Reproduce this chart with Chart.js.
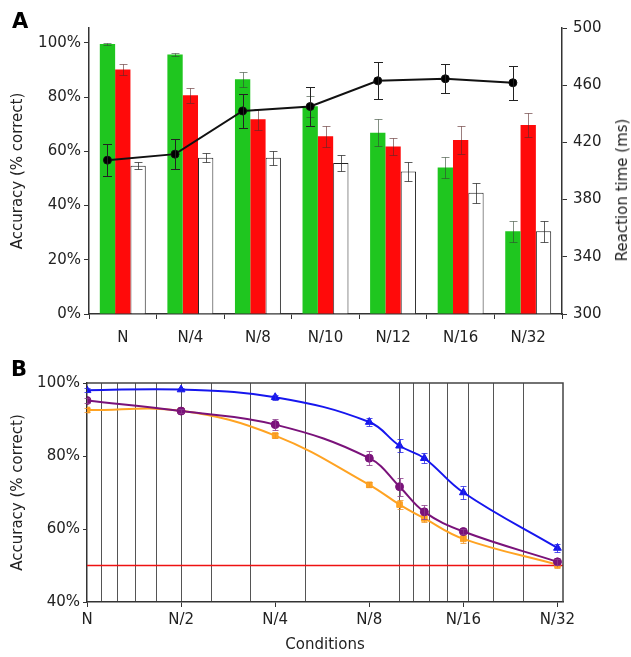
<!DOCTYPE html>
<html>
<head>
<meta charset="utf-8">
<script src="https://cdn.jsdelivr.net/npm/chart.js@4/dist/chart.umd.min.js"></script>
<style>
html,body{margin:0;padding:0;background:#fff;}
body{width:631px;height:657px;position:relative;overflow:hidden;font-family:"DejaVu Sans",sans-serif;}
#wa{position:absolute;left:0;top:0;width:631px;height:345px;}
#wb{position:absolute;left:0;top:345px;width:631px;height:312px;}
.panel{position:absolute;font:bold 21px "DejaVu Sans",sans-serif;color:#000;line-height:21px;}
#rtTitle{position:absolute;left:622px;top:190px;transform:translate(-50%,-50%) rotate(-90deg);white-space:nowrap;font:15px "DejaVu Sans",sans-serif;color:#222;}
</style>
</head>
<body>
<div id="wa"><canvas id="ca"></canvas></div>
<div id="wb"><canvas id="cb"></canvas></div>
<div class="panel" style="left:12px;top:11px;">A</div>
<div class="panel" style="left:11px;top:359px;">B</div>
<div id="rtTitle">Reaction time (ms)</div>
<script>
// ---------- Panel A data ----------
const catsA = ['N', 'N/4', 'N/8', 'N/10', 'N/12', 'N/16', 'N/32'];
const accGreen = [99.6, 95.7, 86.6, 76.6, 66.9, 54.0, 30.5];
const accGreenErr = [0.3, 0.6, 2.8, 4.0, 5.0, 3.8, 3.9];
const accRed = [90.2, 80.7, 71.8, 65.6, 61.8, 64.2, 69.7];
const accRedErr = [2.0, 2.8, 3.8, 3.9, 3.2, 5.0, 4.5];
const accWhite = [54.7, 57.6, 57.6, 55.7, 52.6, 44.7, 30.5];
const accWhiteErr = [1.2, 1.7, 2.6, 3.0, 3.5, 3.7, 3.9];
const rtMs = [407.6, 411.8, 442.0, 445.1, 463.1, 464.5, 461.7];
const rtErr = [11.4, 10.5, 12.0, 13.6, 12.8, 10.3, 11.9];
const accTicksA = [0, 20, 40, 60, 80, 100];
const rtTicks = [300, 340, 380, 420, 460, 500];

// ---------- Panel B data ----------
const denomsB = [1, 2, 4, 8, 10, 12, 16, 32];
const blueAcc = [98.0, 98.2, 96.1, 89.3, 82.8, 79.4, 70.0, 54.8];
const blueErr = [0.5, 0.5, 0.7, 1.0, 1.8, 1.4, 1.7, 1.0];
const purpleAcc = [95.2, 92.3, 88.6, 79.4, 71.6, 64.7, 59.3, 51.0];
const purpleErr = [0.8, 0.6, 1.5, 2.0, 2.5, 2.0, 0.8, 0.8];
const orangeAcc = [92.6, 92.4, 85.6, 72.1, 66.7, 62.9, 57.3, 50.2];
const orangeErr = [0.6, 0.6, 0.8, 0.7, 1.2, 1.0, 1.0, 0.8];
const labelDenomsB = [1, 2, 4, 8, 16, 32];
const gridFracsB = [0.9, 0.8, 0.7, 0.6, 0.5, 0.4, 0.3, 0.2, 0.1, 0.09, 0.08, 0.07, 0.06, 0.05, 0.04];
const xMinFracB = 0.03;
const accTicksB = [40, 60, 80, 100];
const chanceLevel = 50;

// ---------- common ----------
Chart.defaults.font.family = '"DejaVu Sans", sans-serif';
Chart.defaults.font.size = 15;
Chart.defaults.color = '#222';
Chart.defaults.animation = false;

const errorBars = {
  id: 'errorBars',
  afterDatasetDraw(chart, args) {
    const ds = chart.data.datasets[args.index];
    if (!ds.errors) return;
    const meta = args.meta;
    const ys = chart.scales[meta.yAxisID];
    const ctx = chart.ctx;
    ctx.save();
    ctx.strokeStyle = ds.errorColor || '#000';
    ctx.lineWidth = ds.errorWidth || 1;
    const half = (ds.capWidth || 8) / 2;
    meta.data.forEach((el, i) => {
      const v = meta.controller.getParsed(i).y;
      const e = ds.errors[i];
      if (e == null) return;
      const x = Math.round(el.x) + 0.5;
      const y1 = Math.round(ys.getPixelForValue(v + e)) + 0.5;
      const y2 = Math.round(ys.getPixelForValue(v - e)) + 0.5;
      ctx.beginPath();
      ctx.moveTo(x, y1); ctx.lineTo(x, y2);
      ctx.moveTo(x - half, y1); ctx.lineTo(x + half, y1);
      ctx.moveTo(x - half, y2); ctx.lineTo(x + half, y2);
      ctx.stroke();
    });
    ctx.restore();
  }
};

// ---------- Chart A ----------
const catPct = 0.68;
const lineShift = -catPct / 3; // line points sit over the first (green) bar of each group
const catIdx = catsA.map((_, i) => i);

new Chart(document.getElementById('ca'), {
  type: 'bar',
  data: {
    datasets: [
      {
        type: 'line', label: 'Reaction time',
        data: rtMs.map((v, i) => ({x: catIdx[i] + lineShift, y: v})),
        yAxisID: 'yr',
        borderColor: '#111', backgroundColor: '#000', borderWidth: 2,
        pointRadius: 4, pointBorderWidth: 1, tension: 0,
        errors: rtErr, errorColor: '#222', capWidth: 9
      },
      {
        label: 'Green', data: accGreen.map((v, i) => ({x: catIdx[i], y: v})), yAxisID: 'y',
        backgroundColor: '#1fc61f', borderWidth: 0,
        errors: accGreenErr, errorColor: 'rgba(50,70,50,0.6)', capWidth: 8
      },
      {
        label: 'Red', data: accRed.map((v, i) => ({x: catIdx[i], y: v})), yAxisID: 'y',
        backgroundColor: '#ff0a0a', borderWidth: 0,
        errors: accRedErr, errorColor: 'rgba(90,40,40,0.6)', capWidth: 8
      },
      {
        label: 'White', data: accWhite.map((v, i) => ({x: catIdx[i], y: v})), yAxisID: 'y',
        backgroundColor: '#ffffff', borderColor: '#222', borderWidth: 1,
        errors: accWhiteErr, errorColor: 'rgba(40,40,40,0.75)', capWidth: 8
      }
    ]
  },
  options: {
    responsive: true, maintainAspectRatio: false,
    datasets: {bar: {categoryPercentage: catPct, barPercentage: 1.0}},
    layout: {padding: {top: 28, left: 0, right: 0, bottom: 0}},
    plugins: {legend: {display: false}, tooltip: {enabled: false}},
    scales: {
      x: {
        type: 'linear', offset: false, min: -0.5, max: catsA.length - 0.5,
        afterBuildTicks: s => { s.ticks = catIdx.map(v => ({value: v})); },
        grid: {offset: true, drawOnChartArea: false, tickLength: 5, color: '#333'},
        border: {color: '#333', width: 1.5},
        ticks: {padding: 10, maxRotation: 0, autoSkip: false, color: '#222', callback: v => catsA[v]},
        afterFit: s => { s.height = 31; }
      },
      y: {
        position: 'left', min: 0, max: 105.5,
        afterBuildTicks: s => { s.ticks = accTicksA.map(v => ({value: v})); },
        ticks: {callback: v => v + '%', padding: 3, color: '#222'},
        grid: {drawOnChartArea: false, tickLength: 5, color: '#333'},
        border: {color: '#333', width: 1.5},
        title: {display: true, text: 'Accuracy (% correct)', padding: {top: 9, bottom: 0}, color: '#222'},
        afterFit: s => { s.width = 89; }
      },
      yr: {
        position: 'right', min: 300, max: 500,
        afterBuildTicks: s => { s.ticks = rtTicks.map(v => ({value: v})); },
        ticks: {padding: 6, color: '#222'},
        grid: {drawOnChartArea: false, tickLength: 5, color: '#333'},
        border: {color: '#333', width: 1.5},
        afterFit: s => { s.width = 69; }
      }
    }
  },
  plugins: [errorBars]
});

// ---------- Chart B ----------
const near = (a, b) => Math.abs(a - b) < 1e-9;
const labelFracsB = labelDenomsB.map(d => 1 / d);
const tickFracsB = [...new Set([...labelFracsB, ...gridFracsB])].sort((a, b) => b - a);

const chanceLine = {
  id: 'chanceLine',
  beforeDatasetsDraw(chart, args, opts) {
    const {ctx, chartArea} = chart;
    const y = chart.scales.y.getPixelForValue(opts.value);
    ctx.save();
    ctx.strokeStyle = opts.color; ctx.lineWidth = 1.5;
    ctx.beginPath(); ctx.moveTo(chartArea.left, y); ctx.lineTo(chartArea.right, y); ctx.stroke();
    ctx.restore();
  }
};
const frame = {
  id: 'frame',
  beforeDatasetsDraw(chart) {
    const {ctx, chartArea: a} = chart;
    ctx.save();
    ctx.strokeStyle = '#444'; ctx.lineWidth = 1.5;
    ctx.beginPath();
    ctx.moveTo(a.left, a.top); ctx.lineTo(a.right, a.top); ctx.lineTo(a.right, a.bottom);
    ctx.stroke();
    ctx.restore();
  }
};

function seriesB(label, vals, errs, color, errColor, style, radius) {
  return {
    label, data: vals.map((v, i) => ({x: 1 / denomsB[i], y: v})),
    borderColor: color, backgroundColor: color, borderWidth: 2,
    pointStyle: style, pointRadius: radius, pointBorderWidth: 1,
    tension: 0.4, errors: errs, errorColor: errColor, capWidth: 6
  };
}

new Chart(document.getElementById('cb'), {
  type: 'line',
  data: {
    datasets: [
      seriesB('Blue', blueAcc, blueErr, '#1616ee', 'rgba(40,40,230,0.8)', 'triangle', 4.5),
      seriesB('Purple', purpleAcc, purpleErr, '#7a127a', 'rgba(140,60,140,0.8)', 'circle', 4),
      seriesB('Orange', orangeAcc, orangeErr, '#ffa322', 'rgba(240,150,40,0.8)', 'rect', 4)
    ]
  },
  options: {
    responsive: true, maintainAspectRatio: false,
    layout: {padding: {top: 38, left: 0, right: 68, bottom: 0}},
    plugins: {
      legend: {display: false}, tooltip: {enabled: false},
      chanceLine: {value: chanceLevel, color: '#ee1111'}
    },
    scales: {
      x: {
        type: 'logarithmic', reverse: true, min: xMinFracB, max: 1,
        afterBuildTicks: s => { s.ticks = tickFracsB.map(v => ({value: v})); },
        ticks: {
          autoSkip: false, maxRotation: 0, minRotation: 0, padding: 4, color: '#222',
          callback: v => {
            const k = labelFracsB.findIndex(f => near(f, v));
            if (k < 0) return '';
            return labelDenomsB[k] === 1 ? 'N' : 'N/' + labelDenomsB[k];
          }
        },
        grid: {
          tickLength: 5, lineWidth: 1,
          color: c => (c.tick && gridFracsB.some(g => near(g, c.tick.value))) ? '#555' : 'rgba(0,0,0,0)',
          tickColor: c => (c.tick && labelFracsB.some(f => near(f, c.tick.value))) ? '#333' : 'rgba(0,0,0,0)'
        },
        border: {color: '#333', width: 1.5},
        title: {display: true, text: 'Conditions', padding: {top: 0, bottom: 3}, color: '#222'},
        afterFit: s => { s.height = 55; }
      },
      y: {
        min: 40, max: 100,
        afterBuildTicks: s => { s.ticks = accTicksB.map(v => ({value: v})); },
        ticks: {callback: v => v + '%', padding: 3, color: '#222'},
        grid: {drawOnChartArea: false, tickLength: 4, color: '#333'},
        border: {color: '#333', width: 1.5},
        title: {display: true, text: 'Accuracy (% correct)', padding: {top: 9, bottom: 0}, color: '#222'},
        afterFit: s => { s.width = 87; }
      }
    }
  },
  plugins: [chanceLine, frame, errorBars]
});
</script>
</body>
</html>
